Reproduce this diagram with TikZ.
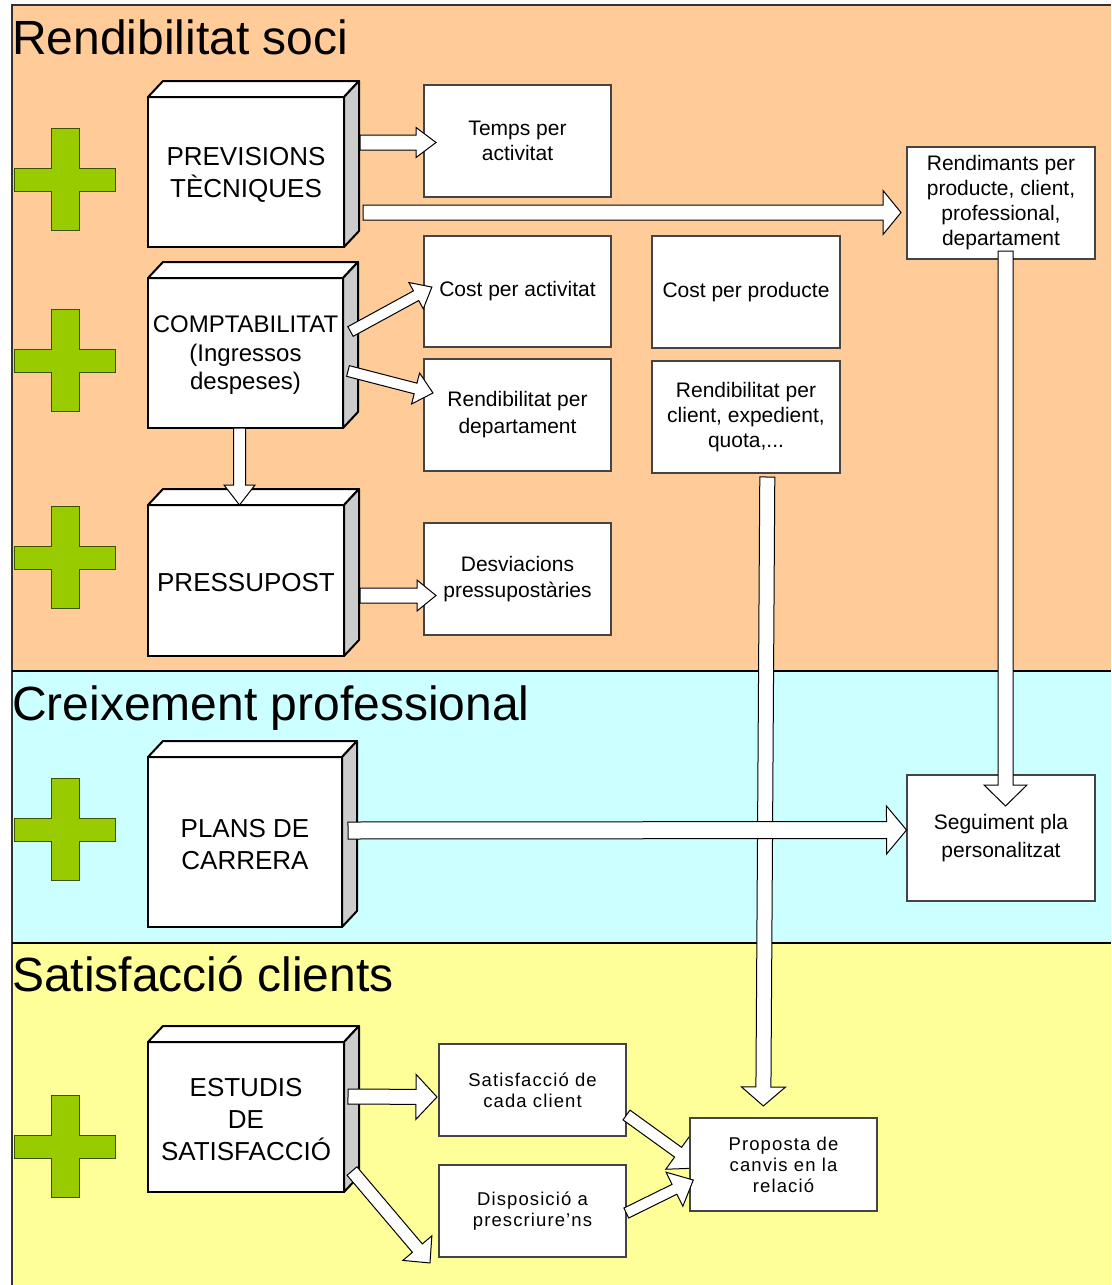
\documentclass[tikz,border=0pt]{standalone}
\usepackage{fontspec}
\setmainfont{Liberation Sans}
\usetikzlibrary{calc}
\definecolor{orangebg}{HTML}{FFCC99}
\definecolor{cyanbg}{HTML}{CCFFFF}
\definecolor{yellowbg}{HTML}{FFFF99}
\definecolor{crossgreen}{HTML}{99CC00}
\definecolor{crossline}{HTML}{3D5200}
\definecolor{sidegray}{HTML}{CCCCCC}
\definecolor{boxline}{HTML}{444444}
\tikzset{
 cubefront/.style={draw=black, line width=2pt, fill=white, inner sep=0pt, outer sep=0pt},
 cubetext/.style={inner sep=0pt, align=center, font=\fontsize{26}{32}\selectfont},
 cubeline/.style={draw=black, line width=2pt, line join=round},
 sbox/.style={draw=boxline, line width=1.2pt, fill=white, inner sep=0pt, outer sep=0pt, align=center, minimum width=187pt, minimum height=112pt, font=\fontsize{21}{25}\selectfont},
 smallbox/.style={sbox, minimum height=92pt, font=\fontsize{18.5}{21}\selectfont\addfontfeature{LetterSpace=6}},
 bandtitle/.style={anchor=base west, inner sep=0pt, font=\fontsize{48}{57}\selectfont},
 barrow/.style={draw=black, fill=white, line width=1pt, line join=miter},
 crossshape/.style={draw=crossline, fill=crossgreen, line width=1pt},
 bandline/.style={draw=black, line width=2pt},
}
\newcommand\greencross[1]{\draw[crossshape, shift={(#1)}] (-14,-51) -- (14,-51) -- (14,-11.5) -- (50.5,-11.5) -- (50.5,11.5) -- (14,11.5) -- (14,51) -- (-14,51) -- (-14,11.5) -- (-50.5,11.5) -- (-50.5,-11.5) -- (-14,-11.5) -- cycle;}
\newcommand\cube[6][]{%
 \node[cubefront, minimum width=#4pt, minimum height=#5pt, anchor=north west] (#2) at (#3) {};
 \draw[cubeline, fill=white] (#2.north west) -- ([shift={(15,-16)}]#2.north west) -- ([shift={(15,-16)}]#2.north east) -- (#2.north east) -- cycle;
 \draw[cubeline, fill=sidegray] (#2.north east) -- ([shift={(15,-16)}]#2.north east) -- ([shift={(15,-16)}]#2.south east) -- (#2.south east) -- cycle;
 \node[cubetext, #1] (#2-text) at ([yshift=-2.5pt]#2.center) {#6};
}
\newcommand\barrow[5]{%
 \draw[barrow] let \p1=(#1), \p2=(#2), \n1={veclen(\x2-\x1,\y2-\y1)}, \n2={atan2(\y2-\y1,\x2-\x1)} in
  [shift={(\p1)}, rotate=\n2]
  (0,-#3) -- ({\n1-#5},-#3) -- ({\n1-#5},-#4) -- (\n1,0) -- ({\n1-#5},#4) -- ({\n1-#5},#3) -- (0,#3) -- cycle;}
\begin{document}
\begin{tikzpicture}[x=1pt,y=-1pt]
\useasboundingbox (0,0) rectangle (1111,1285);
\fill[white] (0,0) rectangle (1111,1285);
\fill[orangebg] (12,5) rectangle (1111,671);
\fill[cyanbg] (12,671) rectangle (1111,943);
\fill[yellowbg] (12,943) rectangle (1111,1285);
\draw[bandline, draw=black!80] (12,1285) -- (12,5) -- (1111,5);
\draw[bandline] (12,671) -- (1111,671);
\draw[bandline] (12,943) -- (1111,943);
% titles
\node[bandtitle] (t1) at (12,54) {Rendibilitat soci};
\node[bandtitle] (t2) at (12,720) {Creixement professional};
\node[bandtitle] (t3) at (12,991) {Satisfacció clients};
% crosses
\coordinate (x1) at (65,179.5);
\coordinate (x2) at (65,360.5);
\coordinate (x3) at (65,557.5);
\coordinate (x4) at (65,829.5);
\coordinate (x5) at (65,1146.5);
\greencross{x1}\greencross{x2}\greencross{x3}\greencross{x4}\greencross{x5}
% cubes
\cube{prev}{148,97}{196}{150}{PREVISIONS\\TÈCNIQUES}
\cube[font=\fontsize{24}{28.5}\selectfont]{comp}{148,278}{195}{150}{COMPTABILITAT\\(Ingressos\\despeses)}
\cube{pres}{148,505}{196}{151}{PRESSUPOST}
\cube{plans}{148,757}{194}{170}{PLANS DE\\CARRERA}
\cube{estu}{148,1042}{196}{150}{ESTUDIS\\DE\\SATISFACCIÓ}
% boxes
\node[sbox] (temps) at (517.5,141) {Temps per\\activitat};
\node[sbox, minimum width=188pt] (rend) at (1001,203) {Rendimants per\\producte, client,\\professional,\\departament};
\node[sbox, minimum height=111pt] (costact) at (517.5,291.5) {Cost per activitat};
\node[sbox, minimum width=188pt] (costprod) at (746,292) {Cost per producte};
\node[sbox, font=\fontsize{21}{27}\selectfont] (rdept) at (517.5,415) {Rendibilitat per\\departament};
\node[sbox, minimum width=188pt] (rclient) at (746,417) {Rendibilitat per\\client, expedient,\\quota,...};
\node[sbox, font=\fontsize{21}{26}\selectfont] (desv) at (517.5,579) {Desviacions\\pressupostàries};
\node[sbox, minimum width=188pt, minimum height=126pt, font=\fontsize{21}{28}\selectfont] (segui) at (1001,838) {Seguiment pla\\personalitzat};
\node[smallbox] (satis) at (532.5,1090) {Satisfacció de\\cada client};
\node[smallbox] (dispo) at (532.5,1211) {Disposició a\\prescriure’ns};
% arrow end points
\coordinate (a1s) at (360,142.5);   \coordinate (a1e) at (436,142.5);
\coordinate (a2s) at (363,212.5);   \coordinate (a2e) at (901,212.5);
\coordinate (a3s) at (350.5,331.5); \coordinate (a3e) at (432,287);
\coordinate (a4s) at (348,371);     \coordinate (a4e) at (433,393);
\coordinate (a5s) at (239.5,428);   \coordinate (a5e) at (239.5,505);
\coordinate (a6s) at (360,595.5);   \coordinate (a6e) at (436,595.5);
\coordinate (a7s) at (1005.5,251);  \coordinate (a7e) at (1005.5,806);
\coordinate (a8s) at (767.3,477);   \coordinate (a8e) at (763.3,1106);
\coordinate (a9s) at (348,830.5);   \coordinate (a9e) at (906.5,830);
\coordinate (a10s) at (348,1096.5); \coordinate (a10e) at (437,1097);
\coordinate (a11s) at (352,1171);   \coordinate (a11e) at (430,1263);
\coordinate (a12s) at (626.5,1115); \coordinate (a12e) at (700,1168);
\coordinate (a13s) at (626.3,1213); \coordinate (a13e) at (693.3,1180);
\barrow{a1s}{a1e}{7.5}{15}{20}
\barrow{a2s}{a2e}{7.5}{22}{18}
\barrow{a3s}{a3e}{5.5}{15}{18}
\barrow{a4s}{a4e}{5.5}{16}{18}
\barrow{a5s}{a5e}{6}{15.5}{20}
\barrow{a6s}{a6e}{7.5}{15.5}{19}
\barrow{a7s}{a7e}{7.5}{21.5}{21}
\barrow{a8s}{a8e}{7.5}{22}{19}
\barrow{a9s}{a9e}{8.5}{24}{20}
\barrow{a10s}{a10e}{7.5}{22.5}{21}
\barrow{a11s}{a11e}{6.5}{19}{19.5}
\barrow{a12s}{a12e}{6}{21}{27}
\node[smallbox, minimum height=93pt] (propo) at (783.5,1164.5) {Proposta de\\canvis en la\\relació};
\barrow{a13s}{a13e}{5.5}{19}{21}
\end{tikzpicture}
\end{document}
